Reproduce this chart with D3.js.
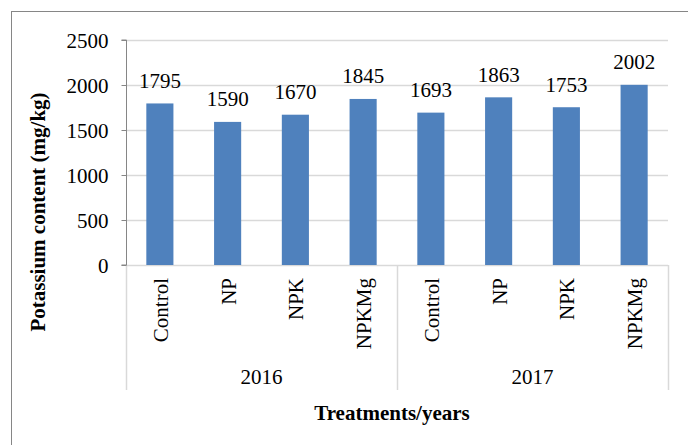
<!DOCTYPE html>
<html>
<head>
<meta charset="utf-8">
<script src="https://cdn.jsdelivr.net/npm/d3@7"></script>
<style>
  html, body { margin: 0; padding: 0; background: #fff; }
  svg { display: block; }
  text { font-family: "Liberation Serif", "Times New Roman", serif; fill: #000; }
</style>
</head>
<body>
<svg id="chart" width="688" height="445"></svg>
<script>
const treatments = ["Control", "NP", "NPK", "NPKMg", "Control", "NP", "NPK", "NPKMg"];
const years = ["2016", "2016", "2016", "2016", "2017", "2017", "2017", "2017"];
const yearGroups = ["2016", "2017"];
const values = [1795, 1590, 1670, 1845, 1693, 1863, 1753, 2002];
const yTicks = [0, 500, 1000, 1500, 2000, 2500];
const yTitle = "Potassium content (mg/kg)";
const xTitle = "Treatments/years";

(function () {
const svg = d3.select("#chart");
const mLeft = 126, mRight = 668, mTop = 40, mBottom = 265, sepBottom = 390;
const fs = 21;

// outer border (clipped by image edges)
svg.append("rect").attr("x", 11.5).attr("y", 11.5).attr("width", 720).attr("height", 480)
  .attr("fill", "none").attr("stroke", "#868686").attr("stroke-width", 1);

const idx = d3.range(values.length);
const x = d3.scaleBand().domain(idx).range([mLeft, mRight]).paddingInner(0.6).paddingOuter(0.3);
const y = d3.scaleLinear().domain([0, 2500]).range([mBottom, mTop]);

// gridlines
svg.append("g").selectAll("line").data(yTicks.filter(t => t > 0)).join("line")
  .attr("x1", mLeft).attr("x2", mRight)
  .attr("y1", d => Math.round(y(d)) + 0.5).attr("y2", d => Math.round(y(d)) + 0.5)
  .attr("stroke", "#D9D9D9").attr("stroke-width", 1.3);

// x axis line
svg.append("line").attr("x1", mLeft).attr("x2", mRight)
  .attr("y1", Math.round(y(0)) + 0.5).attr("y2", Math.round(y(0)) + 0.5)
  .attr("stroke", "#D9D9D9").attr("stroke-width", 1.5);

// group separators
const sepXs = [mLeft, (x(3) + x.bandwidth() + x(4)) / 2, mRight];
svg.append("g").selectAll("line").data(sepXs).join("line")
  .attr("x1", d => Math.round(d) + 0.5).attr("x2", d => Math.round(d) + 0.5)
  .attr("y1", mBottom).attr("y2", sepBottom)
  .attr("stroke", "#D9D9D9").attr("stroke-width", 1.5);

// y axis
const yAxis = d3.axisLeft(y).tickValues(yTicks).tickSize(5).tickPadding(13).tickFormat(d3.format("d"));
const gy = svg.append("g").attr("transform", `translate(${mLeft + 0.5},0)`).call(yAxis);
gy.select(".domain").attr("stroke", "#868686").attr("d", `M-5,${mTop}H0V${mBottom}H-5`);
gy.selectAll(".tick line").attr("stroke", "#868686");
gy.selectAll(".tick text").attr("font-size", fs).attr("font-family", "Liberation Serif").attr("dy", "0.36em");

// bars
svg.append("g").selectAll("rect").data(idx).join("rect")
  .attr("x", i => x(i)).attr("width", x.bandwidth())
  .attr("y", i => y(values[i])).attr("height", i => y(0) - y(values[i]))
  .attr("fill", "#4F81BD");

// data labels
svg.append("g").selectAll("text").data(idx).join("text")
  .attr("x", i => x(i) + x.bandwidth() / 2).attr("y", i => y(values[i]) - 15.5)
  .attr("text-anchor", "middle").attr("font-size", fs)
  .text(i => values[i]);

// category labels (rotated)
svg.append("g").selectAll("text").data(idx).join("text")
  .attr("transform", i => `translate(${x(i) + x.bandwidth() / 2 + 8},278) rotate(-90)`)
  .attr("text-anchor", "end").attr("font-size", fs)
  .text(i => treatments[i]);

// year labels
svg.append("g").selectAll("text").data(yearGroups).join("text")
  .attr("x", (g, k) => (sepXs[k] + sepXs[k + 1]) / 2).attr("y", 384)
  .attr("text-anchor", "middle").attr("font-size", fs)
  .text(g => g);

// axis titles
svg.append("text").attr("x", 392).attr("y", 420).attr("text-anchor", "middle")
  .attr("font-size", fs).attr("font-weight", "bold").text(xTitle);
svg.append("text").attr("transform", "translate(45,212) rotate(-90)").attr("text-anchor", "middle")
  .attr("font-size", fs).attr("font-weight", "bold").text(yTitle);
})();
</script>
</body>
</html>
